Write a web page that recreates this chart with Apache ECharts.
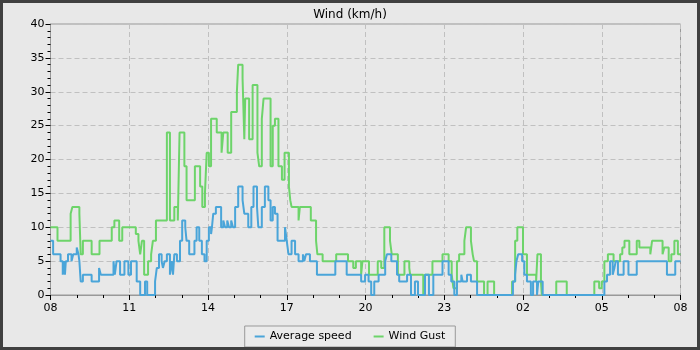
<!DOCTYPE html>
<html>
<head>
<meta charset="utf-8">
<script src="https://cdn.jsdelivr.net/npm/echarts@6/dist/echarts.min.js"></script>
<style>
html,body{margin:0;padding:0;background:#404040;}
#c{position:absolute;left:0;top:0;width:694px;height:344px;border:3px solid #404040;background:#e8e8e8;}
</style>
</head>
<body>
<div id="c"></div>
<script>
// minutes after 08:00 where the value changes, and the value from that minute on
const gustTime = [0,16,46,50,66,69,74,94,112,140,146,157,164,195,201,205,209,214,223,230,234,241,266,273,283,291,295,306,311,330,342,347,353,357,362,367,380,391,395,405,413,426,429,439,443,445,454,462,473,477,483,487,503,508,513,521,529,535,545,548,551,567,570,595,607,610,622,653,680,692,698,710,713,728,748,756,763,776,780,794,809,820,822,852,856,873,896,910,917,921,929,934,946,950,961,965,968,975,991,999,1014,1055,1062,1067,1080,1089,1110,1113,1121,1123,1156,1180,1243,1254,1260,1266,1274,1287,1302,1307,1312,1323,1340,1346,1371,1375,1399,1403,1413,1419,1426,1434,1440];
const gustValue = [10,8,12,13,12,6,8,6,8,10,11,8,10,9,8,6,8,3,5,6,8,11,24,11,13,11,24,19,14,19,16,13,15,21,19,26,24,21,24,21,27,30,34,32,23,29,23,31,21,19,26,29,19,25,26,19,17,21,16,14,13,11,13,11,8,6,5,6,5,4,5,3,5,3,5,4,10,8,6,3,5,4,3,0,3,5,6,5,3,1,5,6,8,10,8,6,5,2,0,2,0,2,8,10,6,3,2,6,2,0,2,0,2,1,2,5,6,5,6,7,8,6,8,7,6,8,6,7,5,6,8,6,6];
const avgTime = [0,6,23,28,31,33,35,40,48,52,60,64,66,69,74,94,111,115,144,147,151,159,169,178,184,197,205,216,221,239,243,248,254,257,261,266,273,277,280,283,289,296,301,308,311,317,329,334,340,346,352,357,362,367,369,372,378,390,395,399,404,408,413,417,422,429,439,443,452,459,464,472,475,483,490,498,503,508,513,519,536,540,544,551,559,567,577,580,584,593,609,651,677,710,719,727,733,740,750,765,769,779,792,797,815,824,833,840,856,865,875,896,910,916,923,929,939,942,952,961,975,1057,1062,1065,1069,1078,1083,1089,1098,1103,1112,1115,1125,1266,1272,1279,1285,1289,1292,1297,1310,1321,1340,1409,1428,1440];
const avgValue = [8,6,5,3,5,3,5,6,5,6,7,6,5,2,3,2,4,3,5,3,5,3,5,3,5,2,0,2,0,2,4,6,5,4,5,6,3,5,3,6,5,8,11,10,8,6,8,10,8,6,5,8,10,9,10,12,13,10,11,10,11,10,11,10,13,16,14,12,10,13,16,13,10,13,16,14,11,13,12,8,10,8,6,8,6,5,6,5,6,5,3,5,3,2,3,2,0,2,3,5,6,5,3,2,3,0,2,0,3,0,3,5,3,2,0,2,3,2,3,2,0,2,3,5,6,5,3,2,0,2,0,2,0,2,3,5,3,4,5,3,5,3,5,3,5,5];
const xTickLabels = ['08','11','14','17','20','23','02','05','08'];
const seriesNames = ['Average speed','Wind Gust'];

const font = 'DejaVu Sans';
const chart = echarts.init(document.getElementById('c'), null, {renderer:'canvas'});
const pairs = (t, v) => t.map((m, i) => [m, v[i]]);
chart.setOption({
  animation: false,
  backgroundColor: '#e8e8e8',
  title: {text: 'Wind (km/h)', left: 'center', top: 1,
    textStyle: {fontFamily: font, fontSize: 12, fontWeight: 'normal', color: '#000'}},
  grid: {left: 47.5, right: 16.5, top: 21, bottom: 52, show: true, borderColor: '#999', borderWidth: 1, backgroundColor: 'transparent'},
  legend: {bottom: 0, left: 'center', itemGap: 22, padding: [5, 10, 5, 10],
    borderColor: '#999', borderWidth: 1, backgroundColor: '#ebebeb',
    icon: 'rect', itemWidth: 10, itemHeight: 2,
    textStyle: {fontFamily: font, fontSize: 11, color: '#000'}, data: seriesNames},
  xAxis: {type: 'value', min: 0, max: 1440, interval: 180,
    axisLine: {lineStyle: {color: '#999'}},
    axisTick: {length: 5, lineStyle: {color: '#000'}},
    minorTick: {show: true, splitNumber: 3, length: 3, lineStyle: {color: '#000'}},
    axisLabel: {fontFamily: font, fontSize: 11, color: '#000', margin: 8,
      formatter: v => xTickLabels[Math.round(v / 180)]},
    splitLine: {show: true, lineStyle: {color: '#c0c0c0', type: [5, 3]}}},
  yAxis: {type: 'value', min: 0, max: 40, interval: 5,
    axisLine: {show: true, lineStyle: {color: '#999'}},
    axisTick: {show: true, length: 5, lineStyle: {color: '#000'}},
    minorTick: {show: true, splitNumber: 5, length: 3, lineStyle: {color: '#000'}},
    axisLabel: {fontFamily: font, fontSize: 11, color: '#000', margin: 6},
    splitLine: {show: true, lineStyle: {color: '#c0c0c0', type: [5, 3]}}},
  series: [
    {name: seriesNames[0], type: 'line', step: 'end', showSymbol: false, data: pairs(avgTime, avgValue),
      lineStyle: {width: 2, color: '#4aa5d9'}, itemStyle: {color: '#4aa5d9'}, z: 3},
    {name: seriesNames[1], type: 'line', step: 'end', showSymbol: false, data: pairs(gustTime, gustValue),
      lineStyle: {width: 2, color: '#6dd46a'}, itemStyle: {color: '#6dd46a'}, z: 2}
  ]
});
</script>
</body>
</html>
